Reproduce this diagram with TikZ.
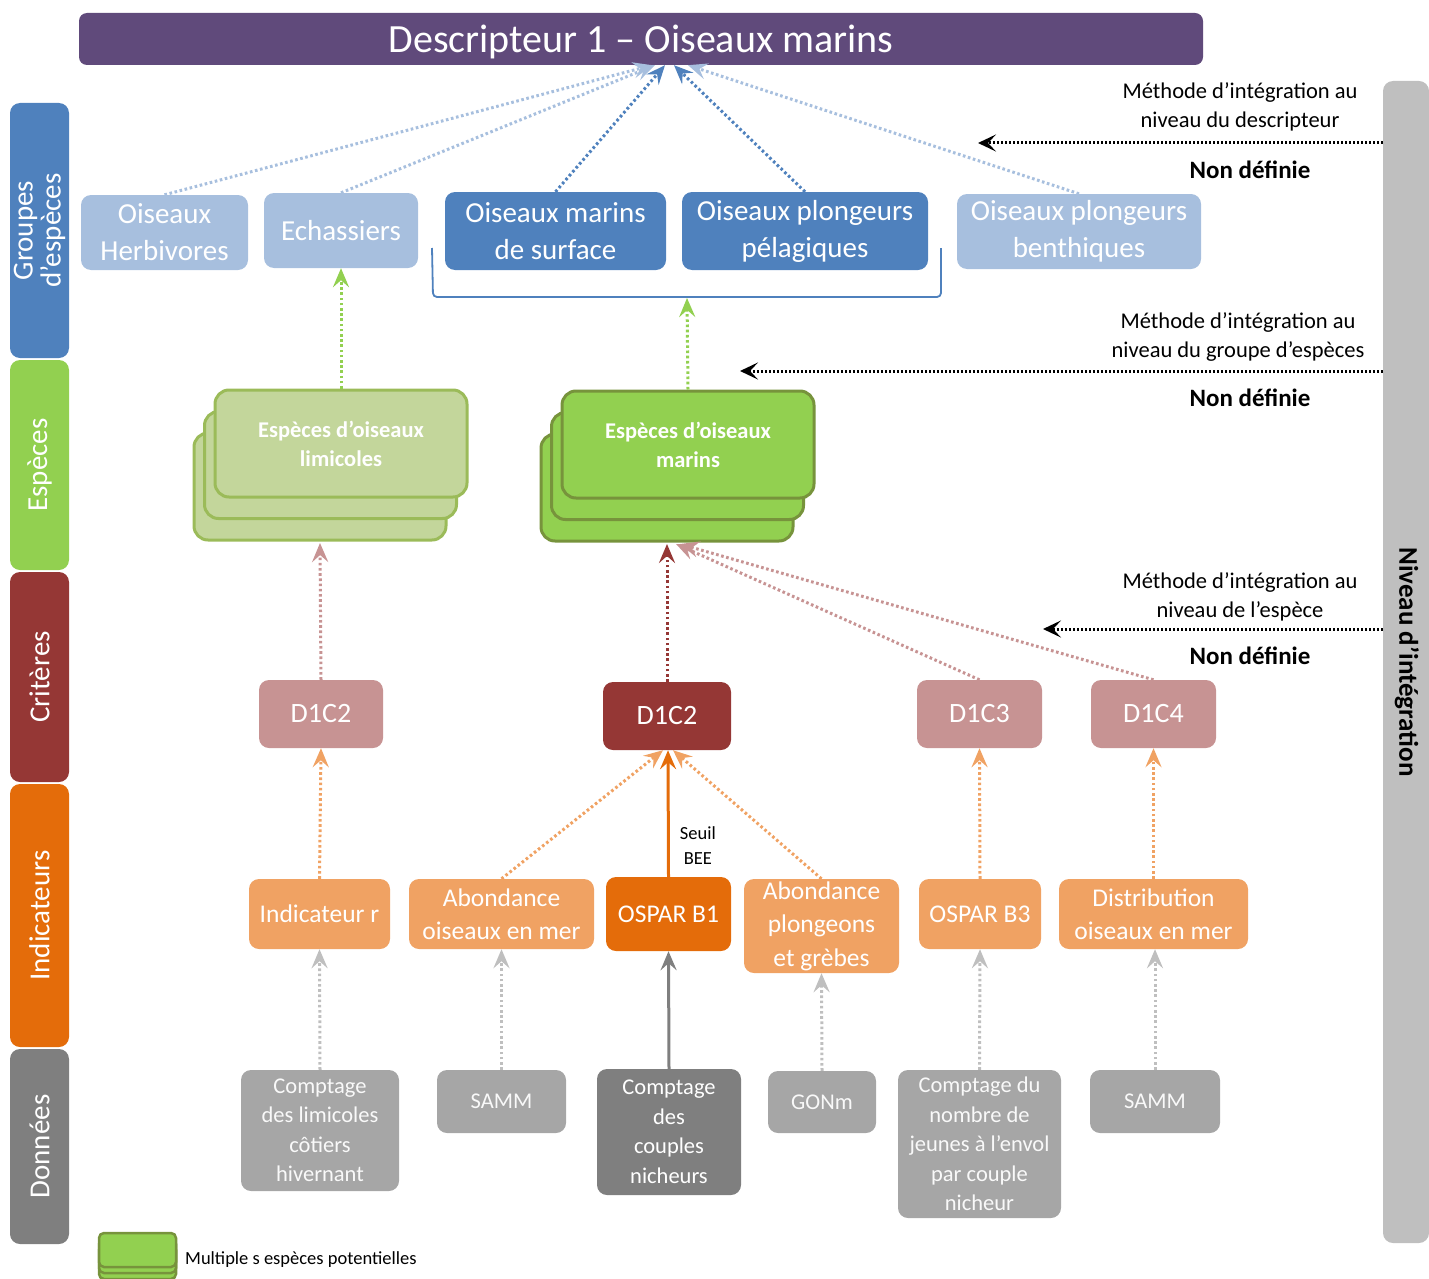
\documentclass[tikz,border=0pt]{standalone}
\usepackage{fontspec}
\setmainfont{Carlito}
\usetikzlibrary{arrows.meta}
\definecolor{purp}{HTML}{604A7B}
\definecolor{bluD}{HTML}{4F81BD}
\definecolor{bluL}{HTML}{A7BFDE}
\definecolor{grnD}{HTML}{92D050}
\definecolor{grnDb}{HTML}{77933C}
\definecolor{grnL}{HTML}{C3D69B}
\definecolor{grnLb}{HTML}{9BBB59}
\definecolor{redD}{HTML}{953735}
\definecolor{redL}{HTML}{C79393}
\definecolor{orD}{HTML}{E46C0A}
\definecolor{orL}{HTML}{F0A263}
\definecolor{gryD}{HTML}{7F7F7F}
\definecolor{gryL}{HTML}{A6A6A6}
\definecolor{gryB}{HTML}{BFBFBF}
\begin{document}
\begin{tikzpicture}[x=1pt,y=-1pt,
  box/.style={rounded corners=10pt, inner sep=0pt, align=center, text=white},
  band/.style={box, rotate=90, minimum height=59pt, font=\fontsize{29}{28}\selectfont},
  grpL/.style={box, fill=bluL, font=\fontsize{29}{37}\selectfont},
  grpD/.style={box, fill=bluD, font=\fontsize{29}{37}\selectfont},
  spL/.style={box, rounded corners=14pt, fill=grnL, draw=grnLb, line width=3pt, minimum width=252pt, minimum height=107pt, font=\bfseries\fontsize{22.5}{29}\selectfont},
  spD/.style={box, rounded corners=14pt, fill=grnD, draw=grnDb, line width=3pt, minimum width=252pt, minimum height=107pt, font=\bfseries\fontsize{22.5}{29}\selectfont},
  crL/.style={box, fill=redL, minimum height=68pt, font=\fontsize{28}{34}\selectfont},
  crD/.style={box, fill=redD, minimum height=68pt, font=\fontsize{28}{34}\selectfont},
  inL/.style={box, fill=orL, font=\fontsize{25.5}{33.5}\selectfont},
  inD/.style={box, fill=orD, font=\fontsize{25.5}{33.5}\selectfont},
  daL/.style={box, fill=gryL, font=\fontsize{22.5}{29.5}\selectfont, text=white!95!gray},
  daD/.style={box, fill=gryD, font=\fontsize{22.5}{29.5}\selectfont},
  tip/.style={-{Stealth[length=19pt,width=16pt,inset=7pt]}},
  dots/.style={tip, line width=3pt, dash pattern=on 2.6pt off 2.6pt},
  meth/.style={font=\fontsize{22.5}{29}\selectfont, align=center, inner sep=0pt},
  nondef/.style={font=\bfseries\fontsize{25}{30}\selectfont, inner sep=0pt},
  marrow/.style={line width=3pt, dash pattern=on 2.4pt off 1.6pt, -{Stealth[length=18pt,width=17pt,inset=8pt]}}
]
\useasboundingbox (0,0) rectangle (1429,1279);

% title
\node[box, fill=purp, rounded corners=8pt, minimum width=1124pt, minimum height=52pt,
      text height=30pt, text depth=2pt,
      font=\fontsize{40}{48}\selectfont] (title) at (641,39) {Descripteur 1 – Oiseaux marins};

% left bands
\node[band, fill=bluD, minimum width=255pt] (bgrp) at (39.5,230.5) {Groupes\\d’espèces};
\node[band, fill=grnD, minimum width=210pt] (besp) at (39.5,465) {Espèces};
\node[band, fill=redD, minimum width=210pt] (bcri) at (39.5,677) {Critères};
\node[band, fill=orD, minimum width=263pt] (bind) at (39.5,915.5) {Indicateurs};
\node[band, fill=gryD, minimum width=195pt] (bdon) at (39.5,1146.5) {Données};

% right bar
\path[fill=gryB, rounded corners=10pt] (1429,81) -- (1383,81) -- (1383,1243) -- (1429,1243) -- cycle;
\node[rotate=-90, font=\bfseries\fontsize{27}{30}\selectfont, inner sep=0pt] (niveau) at (1407,662) {Niveau d’intégration};

% group nodes
\node[grpL, minimum width=167pt, minimum height=75pt] (herb) at (164.5,232.5) {Oiseaux\\Herbivores};
\node[grpL, minimum width=154pt, minimum height=75pt] (echa) at (341,230.5) {Echassiers};
\node[grpD, minimum width=221pt, minimum height=78pt] (surf) at (555.5,231) {Oiseaux marins\\de surface};
\node[grpD, minimum width=246pt, minimum height=78pt] (pela) at (805,231) {Oiseaux plongeurs\\pélagiques};
\node[grpL, minimum width=244pt, minimum height=75pt] (bent) at (1079,231.5) {Oiseaux plongeurs\\benthiques};

% bracket
\draw[bluD, line width=1.8pt, rounded corners=4pt] (432,248) -- (433,297) -- (941,297) -- (941,248);
\coordinate (bkt) at (687,298);

% arrows to title
\draw[dots, bluL] (herb.north) -- ([xshift=11pt]title.south);
\draw[dots, bluL] (echa.north) -- ([xshift=14pt]title.south);
\draw[dots, bluD] (surf.north) -- ([xshift=24pt]title.south);
\draw[dots, bluD] (pela.north) -- ([xshift=33pt]title.south);
\draw[dots, bluL] (bent.north) -- ([xshift=47pt]title.south);

% species stacks
\node[spL] (limB) at (320,486.5) {};
\node[spL] (limM) at (330.5,465) {};
\node[spL] (limF) at (341,443.5) {Espèces d’oiseaux\\limicoles};
\node[spD] (marB) at (667,487.5) {};
\node[spD] (marM) at (677.5,466) {};
\node[spD] (marF) at (688,444.5) {Espèces d’oiseaux\\marins};

\draw[dots, grnD] (limF.north) -- (echa.south);
\draw[dots, grnD] (marF.north) -- (bkt);

% criteria
\node[crL, minimum width=124pt] (c2L) at (321,714) {D1C2};
\node[crD, minimum width=128pt] (c2C) at (667,716) {D1C2};
\node[crL, minimum width=125pt] (c3) at (979.5,714) {D1C3};
\node[crL, minimum width=125pt] (c4) at (1153.5,714) {D1C4};

\draw[dots, redL] (c2L.north) -- ([yshift=-1.5pt]limB.south);
\draw[dots, redL] (c3.north) -- ([xshift=9pt,yshift=-1.5pt]marB.south);
\draw[dots, redL] (c4.north) -- ([xshift=13pt,yshift=-1.5pt]marB.south);
\draw[dots, redD] (c2C.north) -- ([yshift=-1.5pt]marB.south);

% indicators
\node[inL, minimum width=141pt, minimum height=70pt] (ir) at (319.5,914) {Indicateur r};
\node[inL, minimum width=185pt, minimum height=70pt] (ab1) at (501.5,914) {Abondance\\oiseaux en mer};
\node[inD, minimum width=125pt, minimum height=74pt] (b1) at (668.5,914) {OSPAR B1};
\node[inL, minimum width=155pt, minimum height=94pt] (ab2) at (821.5,926) {Abondance\\plongeons\\et grèbes};
\node[inL, minimum width=122pt, minimum height=70pt] (b3) at (980,914) {OSPAR B3};
\node[inL, minimum width=189pt, minimum height=70pt] (dist) at (1153.5,914) {Distribution\\oiseaux en mer};

\draw[dots, orL] (ir.north) -- (c2L.south);
\draw[dots, orL] (ab1.north) -- ([xshift=-4pt]c2C.south);
\draw[dots, orL] (ab2.north) -- ([xshift=6pt]c2C.south);
\draw[dots, orL] (b3.north) -- (c3.south);
\draw[dots, orL] (dist.north) -- (c4.south);
\draw[tip, orD, line width=3pt] (b1.north) -- node[pos=0.25, right=10pt, text=black, align=center, inner sep=0pt, font=\fontsize{18.5}{25}\selectfont] (seuil) {Seuil\\BEE} ([xshift=1pt]c2C.south);

% data
\node[daL, minimum width=158pt, minimum height=121pt] (d1) at (320,1130.5) {Comptage\\des limicoles\\côtiers\\hivernant};
\node[daL, minimum width=129pt, minimum height=63pt] (d2) at (501.5,1101.5) {SAMM};
\node[daD, minimum width=144pt, minimum height=126pt] (d3) at (669,1132) {Comptage\\des\\couples\\nicheurs};
\node[daL, minimum width=108pt, minimum height=62pt] (d4) at (822,1102) {GONm};
\node[daL, minimum width=163pt, minimum height=148pt] (d5) at (979.5,1144) {Comptage du\\nombre de\\jeunes à l’envol\\par couple\\nicheur};
\node[daL, minimum width=130pt, minimum height=63pt] (d6) at (1155,1101.5) {SAMM};

\draw[dots, gryB] (d1.north) -- (ir.south);
\draw[dots, gryB] (d2.north) -- (ab1.south);
\draw[tip, gryD, line width=3pt] (d3.north) -- (b1.south);
\draw[dots, gryB] (d4.north) -- (ab2.south);
\draw[dots, gryB] (d5.north) -- (b3.south);
\draw[dots, gryB] (d6.north) -- ([xshift=1.5pt]dist.south);

% integration method arrows
\coordinate (m1s) at (1383,143); \coordinate (m1e) at (978,143);
\coordinate (m2s) at (1383,371); \coordinate (m2e) at (740,371);
\coordinate (m3s) at (1383,629); \coordinate (m3e) at (1043,629);
\draw[marrow] (m1s) -- (m1e);
\draw[marrow] (m2s) -- (m2e);
\draw[marrow] (m3s) -- (m3e);

\node[meth] (mt1) at (1240,106.5) {Méthode d’intégration au\\niveau du descripteur};
\node[nondef] (nd1) at (1250,170) {Non définie};
\node[meth] (mt2) at (1238,336.5) {Méthode d’intégration au\\niveau du groupe d’espèces};
\node[nondef] (nd2) at (1250,398) {Non définie};
\node[meth] (mt3) at (1240,596.5) {Méthode d’intégration au\\niveau de l’espèce};
\node[nondef] (nd3) at (1250,656) {Non définie};

% legend
\node[box, rounded corners=5pt, fill=grnD, draw=grnDb, line width=2.5pt, minimum width=77pt, minimum height=34pt] (lgB) at (137.5,1262) {};
\node[box, rounded corners=5pt, fill=grnD, draw=grnDb, line width=2.5pt, minimum width=77pt, minimum height=34pt] (lgM) at (137.5,1256) {};
\node[box, rounded corners=5pt, fill=grnD, draw=grnDb, line width=2.5pt, minimum width=77pt, minimum height=34pt] (lgF) at (137.5,1250) {};
\node[anchor=west, inner sep=0pt, font=\fontsize{18.5}{22}\selectfont] (lgt) at (185,1260) {Multiple s espèces potentielles};
\end{tikzpicture}
\end{document}
